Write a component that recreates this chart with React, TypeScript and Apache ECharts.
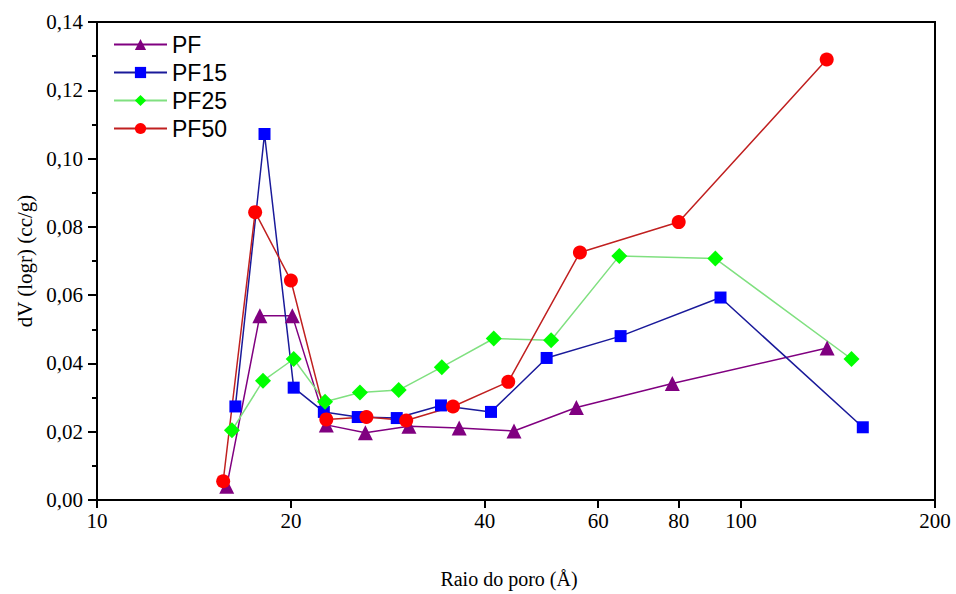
import React, { useEffect, useRef } from "react";
import * as echarts from "echarts";

const xTicks = [10, 20, 40, 60, 80, 100, 200];

const pfX = [15.9, 17.9, 20.1, 22.7, 26.1, 30.5, 36.5, 44.4, 55.5, 78.2, 136];
const pfY = [0.004, 0.054, 0.054, 0.022, 0.0197, 0.0216, 0.0211, 0.0202, 0.0271, 0.0341, 0.0445];

const pf15X = [16.4, 18.2, 20.2, 22.5, 25.4, 29.2, 34.2, 40.9, 49.9, 65.0, 92.9, 154.5];
const pf15Y = [0.0274, 0.1072, 0.0329, 0.0258, 0.0243, 0.024, 0.0277, 0.0258, 0.0416, 0.048, 0.0593, 0.0213];

const pf25X = [16.2, 18.1, 20.2, 22.6, 25.6, 29.4, 34.3, 41.3, 50.7, 64.7, 91.2, 148.4];
const pf25Y = [0.0204, 0.0349, 0.0413, 0.0288, 0.0315, 0.0322, 0.0389, 0.0473, 0.0468, 0.0715, 0.0707, 0.0413];

const pf50X = [15.7, 17.6, 20.0, 22.7, 26.2, 30.2, 35.7, 43.5, 56.2, 80.0, 135.8];
const pf50Y = [0.0055, 0.0843, 0.0643, 0.0236, 0.0243, 0.0233, 0.0274, 0.0346, 0.0725, 0.0814, 0.129];

const zip = (xs: number[], ys: number[]) => xs.map((x, i) => [x, ys[i]]);

const serif = "'Liberation Serif', 'Times New Roman', serif";
const sans = "'Liberation Sans', Arial, sans-serif";

export default function App() {
  const ref = useRef<HTMLDivElement>(null);
  useEffect(() => {
    document.body.style.margin = "0";
    const chart = echarts.init(ref.current!, null, { renderer: "svg" });
    const mk = (name: string, xs: number[], ys: number[], symbol: string, size: number, mColor: string, lColor: string, lw: number) => ({
      name,
      type: "line",
      data: zip(xs, ys),
      symbol,
      symbolSize: size,
      showAllSymbol: true,
      itemStyle: { color: mColor, borderWidth: 0 },
      lineStyle: { color: lColor, width: lw },
      emphasis: { disabled: true },
    });
    chart.setOption({
      animation: false,
      grid: {
        left: 97,
        right: 21,
        top: 22,
        bottom: 86,
        show: true,
        borderColor: "#000",
        borderWidth: 2,
        backgroundColor: "transparent",
      },
      legend: {
        orient: "vertical",
        left: 108,
        top: 28,
        itemWidth: 53,
        itemHeight: 14,
        itemGap: 5,
        textStyle: { fontFamily: sans, fontSize: 23, color: "#000", lineHeight: 22 },
        data: ["PF", "PF15", "PF25", "PF50"],
      },
      xAxis: {
        type: "log",
        logBase: 10,
        min: 10,
        max: 200,
        name: "Raio do poro (Å)",
        nameLocation: "middle",
        nameGap: 69,
        nameTextStyle: { fontFamily: serif, fontSize: 20, color: "#000", padding: [0, 14, 0, 0] },
        axisLine: { lineStyle: { color: "#000", width: 2 } },
        axisTick: { show: true, inside: false, length: 8, lineStyle: { color: "#000", width: 2 }, customValues: xTicks },
        minorTick: { show: false },
        splitLine: { show: false },
        axisLabel: {
          customValues: xTicks,
          fontFamily: serif,
          fontSize: 21,
          color: "#000",
          margin: 10,
          formatter: (v: number) => String(Math.round(v)),
        },
      },
      yAxis: {
        type: "value",
        min: 0,
        max: 0.14,
        interval: 0.02,
        name: "dV (logr) (cc/g)",
        nameLocation: "middle",
        nameGap: 58,
        nameRotate: 90,
        nameTextStyle: { fontFamily: serif, fontSize: 21, color: "#000" },
        axisLine: { show: true, lineStyle: { color: "#000", width: 2 } },
        axisTick: { show: true, inside: false, length: 9, lineStyle: { color: "#000", width: 2 } },
        minorTick: { show: true, splitNumber: 2, length: 5, lineStyle: { color: "#000", width: 2 } },
        splitLine: { show: false },
        axisLabel: {
          fontFamily: serif,
          fontSize: 21,
          color: "#000",
          margin: 14,
          formatter: (v: number) => v.toFixed(2).replace(".", ","),
        },
      },
      series: [
        mk("PF", pfX, pfY, "triangle", 15, "#800080", "#800080", 1.5),
        mk("PF15", pf15X, pf15Y, "rect", 12, "#0000ff", "#1a1a9a", 1.5),
        mk("PF25", pf25X, pf25Y, "diamond", 16, "#00ff00", "#80e080", 1.5),
        mk("PF50", pf50X, pf50Y, "circle", 14, "#ff0000", "#c02020", 1.5),
      ],
    });
    return () => chart.dispose();
  }, []);
  return <div ref={ref} style={{ width: 956, height: 594 }} />;
}
